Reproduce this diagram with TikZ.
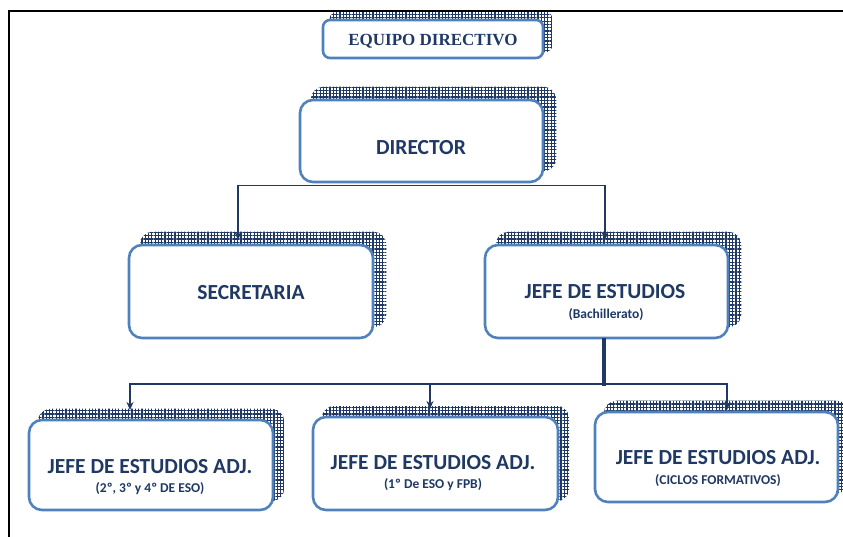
\documentclass[tikz,border=0pt]{standalone}
\usepackage{fontspec}
\setmainfont{Carlito}
\newfontfamily\serifb{Liberation Serif}
\usetikzlibrary{patterns.meta,arrows.meta,backgrounds}
\definecolor{navy}{HTML}{1F3864}
\definecolor{bord}{HTML}{4F81BD}
\begin{document}
\begin{tikzpicture}[x=1pt,y=-1pt,
  box/.style={draw=bord, line width=2.6pt, fill=white, rounded corners=13pt, inner sep=0pt},
  smallbox/.style={box, rounded corners=7pt},
  shade/.style={pattern={Hatch[distance=3.3pt,line width=1.2pt]}, pattern color=navy, rounded corners=13pt},
  maintxt/.style={text=navy, font=\fontsize{21.5}{23}\selectfont\bfseries, inner sep=0pt},
  subtxt/.style={text=navy, font=\fontsize{13.5}{15}\selectfont\bfseries, inner sep=0pt},
  conn/.style={draw=navy, line width=1.3pt},
  arr/.style={conn, -{Stealth[length=8pt,width=7pt]}},
]
\useasboundingbox (0,0) rectangle (843,536);
% frame
\draw[line width=2.5pt, line cap=rect] (9,536) -- (9,11) -- (843,11);

% boxes
\node[smallbox, minimum width=220pt, minimum height=38pt] (eq) at (433,39) {};
\node[box, minimum width=243pt, minimum height=82pt] (dir) at (421.5,141) {};
\node[box, minimum width=244pt, minimum height=93pt] (sec) at (251,291.5) {};
\node[box, minimum width=243pt, minimum height=93pt] (jefe) at (606.5,291.5) {};
\node[box, minimum width=244pt, minimum height=90pt] (b1) at (151,465) {};
\node[box, minimum width=245pt, minimum height=93pt] (b2) at (435.5,463.5) {};
\node[box, minimum width=243pt, minimum height=90pt] (b3) at (716.5,457) {};

% shadows
\begin{scope}[on background layer]
\path[shade, rounded corners=7pt] ([shift={(8pt,7pt)}]eq.south west) rectangle ([shift={(8pt,7pt)}]eq.north east);
\foreach \n in {dir,sec,jefe}
  \path[shade] ([shift={(12pt,12pt)}]\n.south west) rectangle ([shift={(12pt,12pt)}]\n.north east);
\foreach \n in {b1,b2,b3}
  \path[shade] ([shift={(10pt,10pt)}]\n.south west) rectangle ([shift={(10pt,10pt)}]\n.north east);
\end{scope}

% texts
\node[text=navy, font=\serifb\fontsize{17}{19}\selectfont\bfseries, inner sep=0pt] (eqT) at (433,41) {EQUIPO DIRECTIVO};
\node[maintxt] (dirT) at (421,148) {DIRECTOR};
\node[maintxt] (secT) at (251,293) {SECRETARIA};
\node[maintxt] (jT) at (605,292) {JEFE DE ESTUDIOS};
\node[subtxt] (jS) at (606,315) {(Bachillerato)};
\node[maintxt] (b1T) at (150,467) {JEFE DE ESTUDIOS ADJ.};
\node[subtxt] (b1S) at (150,489) {(2º, 3º y 4º DE ESO)};
\node[maintxt] (b2T) at (433,463) {JEFE DE ESTUDIOS ADJ.};
\node[subtxt] (b2S) at (433,485) {(1º De ESO y FPB)};
\node[maintxt] (b3T) at (718,458) {JEFE DE ESTUDIOS ADJ.};
\node[subtxt] (b3S) at (718,481) {(CICLOS FORMATIVOS)};

% connectors
\coordinate (secIn) at (238,240);
\coordinate (jefeIn) at (605,240);
\coordinate (jOut) at (604,338);
\coordinate (hub) at (604,384);
\coordinate (b1In) at (130,410);
\coordinate (b2In) at (430,409);
\coordinate (b3In) at (727,410);
\draw[arr] ([yshift=-2pt]dir.south) -| (secIn);
\draw[arr] ([yshift=-2pt]dir.south) -| (jefeIn);
\draw[conn, line width=3.5pt] (jOut) -- ([yshift=-2pt]hub);
\draw[arr] (hub) -| (b1In);
\draw[arr] (hub) -| (b2In);
\draw[arr] (hub) -| (b3In);
\end{tikzpicture}
\end{document}
